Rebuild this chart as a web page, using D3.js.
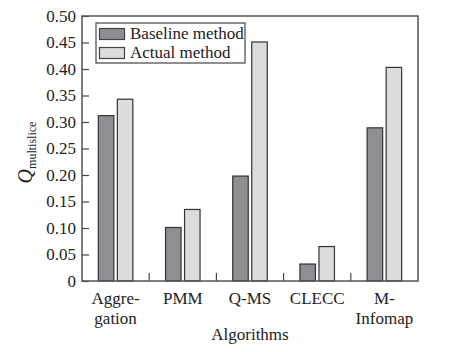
<!doctype html>
<html>
  <head>
    <script src="https://cdn.jsdelivr.net/npm/d3@7/dist/d3.min.js"></script>
    <style>
      body { margin: 0; background: #fff; }
      svg text { font-family: "Times New Roman", "Liberation Serif", "DejaVu Serif", serif; fill: #222; }
    </style>
  </head>
  <body>
    <div id="my_dataviz"></div>
    <script>
      // data
      var categories = ["Aggre-|gation", "PMM", "Q-MS", "CLECC", "M-|Infomap"];
      var baseline = [0.312, 0.101, 0.198, 0.032, 0.289];
      var actual = [0.343, 0.135, 0.451, 0.065, 0.403];
      var seriesNames = ["Baseline method", "Actual method"];
      var yTicks = [0, 0.05, 0.10, 0.15, 0.20, 0.25, 0.30, 0.35, 0.40, 0.45, 0.50];

      var serif = "'Times New Roman', 'Liberation Serif', 'DejaVu Serif', serif";

      var margin = {top: 16, right: 32, bottom: 71, left: 82},
        width = 450 - margin.left - margin.right,
        height = 352 - margin.top - margin.bottom;

      var svg = d3.select("#my_dataviz")
        .append("svg")
        .attr("width", 450)
        .attr("height", 352)
        .attr("font-family", serif)
        .append("g")
          .attr("transform", "translate(" + margin.left + "," + margin.top + ")");

      var x = d3.scaleBand().domain(categories).range([0, width]);
      var y = d3.scaleLinear().domain([0, 0.5]).range([height, 0]);

      var colors = ["#8f8e93", "#dcdcdc"];
      var barW = 15.5, offset = 9.5;

      // bars
      [baseline, actual].forEach(function(vals, s) {
        svg.selectAll(".bar" + s)
          .data(vals)
          .enter()
          .append("rect")
          .attr("x", function(d, i) { return x(categories[i]) + x.bandwidth() / 2 + (s ? offset : -offset) - barW / 2; })
          .attr("y", function(d) { return y(d); })
          .attr("width", barW)
          .attr("height", function(d) { return height - y(d); })
          .attr("fill", colors[s])
          .attr("stroke", "#333")
          .attr("stroke-width", 1.2);
      });

      // y axis, inward ticks
      var yAxis = d3.axisLeft(y).tickValues(yTicks).tickSizeInner(-7).tickSizeOuter(0).tickPadding(6)
        .tickFormat(function(d) { return d === 0 ? "0" : d3.format(".2f")(d); });
      var gy = svg.append("g").call(yAxis).attr("font-family", serif);
      gy.select(".domain").remove();
      gy.selectAll("line").attr("stroke", "#444").attr("stroke-width", 1.2);
      gy.selectAll("text").attr("font-size", 17).attr("fill", "#222");

      // x axis: ticks between groups
      var sep = categories.slice(1).map(function(c) { return x(c); });
      svg.selectAll(".sep")
        .data(sep)
        .enter()
        .append("line")
        .attr("x1", function(d) { return d; })
        .attr("x2", function(d) { return d; })
        .attr("y1", height)
        .attr("y2", height - 8)
        .attr("stroke", "#444")
        .attr("stroke-width", 1.2);

      var labels = svg.selectAll(".xlab")
        .data(categories)
        .enter()
        .append("text")
        .attr("text-anchor", "middle")
        .attr("font-size", 17)
        .attr("transform", function(d) { return "translate(" + (x(d) + x.bandwidth() / 2) + "," + (height + 23) + ")"; });
      labels.each(function(d) {
        var t = d3.select(this);
        d.split("|").forEach(function(part, k) {
          t.append("tspan").attr("x", 0).attr("dy", k ? 20 : 0).text(part);
        });
      });

      // frame
      svg.append("rect")
        .attr("width", width)
        .attr("height", height)
        .attr("fill", "none")
        .attr("stroke", "#555")
        .attr("stroke-width", 1.5);

      // axis titles
      svg.append("text")
        .attr("x", width / 2)
        .attr("y", height + 59)
        .attr("text-anchor", "middle")
        .attr("font-size", 17)
        .text("Algorithms");

      var yl = svg.append("text")
        .attr("transform", "translate(" + (-50) + "," + (height / 2 + 4) + ") rotate(-90)")
        .attr("text-anchor", "middle");
      yl.append("tspan").attr("font-style", "italic").attr("font-size", 20).text("Q");
      yl.append("tspan").attr("font-size", 12).attr("dy", 4).text("multislice");

      // legend
      var lg = svg.append("g").attr("transform", "translate(14,7)");
      lg.append("rect")
        .attr("width", 149)
        .attr("height", 40)
        .attr("fill", "#fff")
        .attr("stroke", "#444")
        .attr("stroke-width", 1.2);
      seriesNames.forEach(function(name, s) {
        lg.append("rect")
          .attr("x", 3.5)
          .attr("y", 5.5 + s * 19)
          .attr("width", 25)
          .attr("height", 11)
          .attr("fill", colors[s])
          .attr("stroke", "#444")
          .attr("stroke-width", 1.2);
        lg.append("text")
          .attr("x", 34)
          .attr("y", 16 + s * 19)
          .attr("font-size", 17)
          .text(name);
      });
    </script>
  </body>
</html>
